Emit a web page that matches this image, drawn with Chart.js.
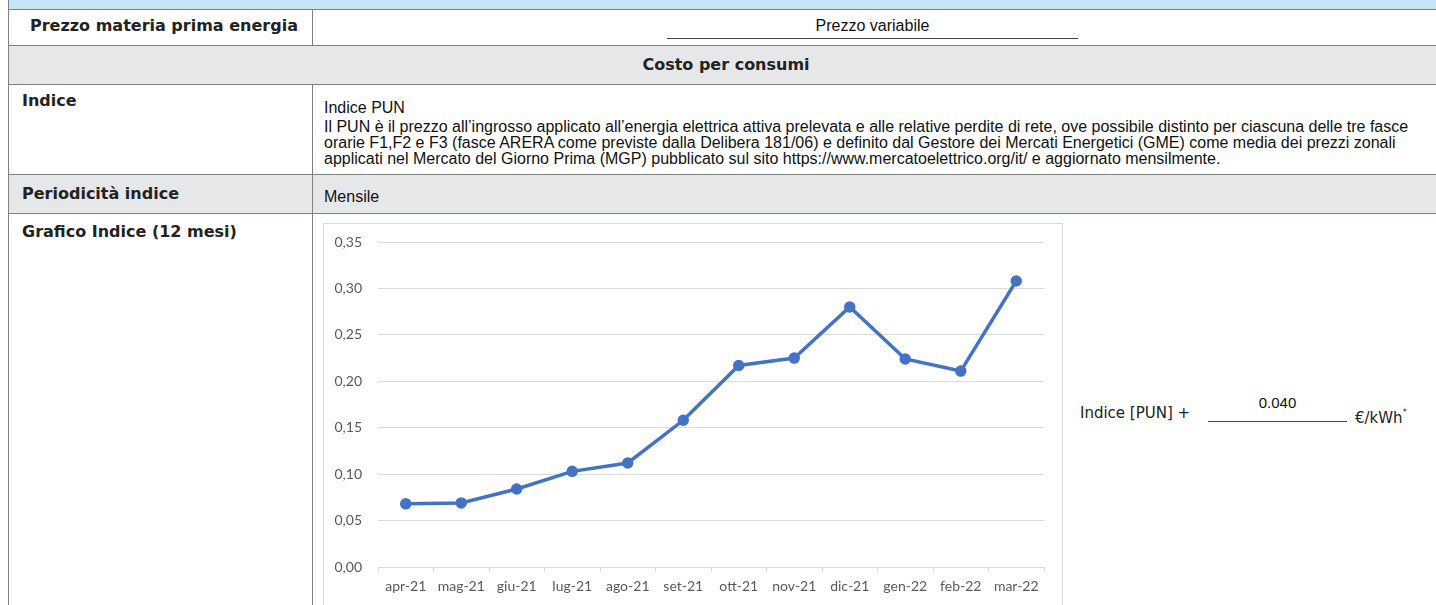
<!DOCTYPE html>
<html lang="it">
<head>
<meta charset="utf-8">
<title>Grafico Indice PUN</title>
<script src="https://cdn.jsdelivr.net/npm/chart.js@4.4.1/dist/chart.umd.min.js"></script>
<style>
    html, body {
        margin: 0;
        padding: 0;
        width: 1436px;
        height: 605px;
        overflow: hidden;
        background: #ffffff;
    }
    .page {
        position: relative;
        width: 1436px;
        height: 605px;
    }
    .band {
        position: absolute;
        left: 8px;
        width: 1436px;
    }
    .blue { background: #c6e6f7; }
    .grey { background: #e6e7e8; }
    .hline {
        position: absolute;
        left: 8px;
        width: 1436px;
        height: 1px;
        background: #808080;
    }
    .vline {
        position: absolute;
        width: 1px;
        background: #808080;
    }
    .label {
        position: absolute;
        font-family: "DejaVu Sans", Verdana, sans-serif;
        font-weight: bold;
        font-size: 16px;
        line-height: 18px;
        color: #222;
        white-space: nowrap;
    }
    .text {
        position: absolute;
        font-family: "Liberation Sans", Arial, sans-serif;
        font-size: 16px;
        line-height: 18px;
        color: #111;
        white-space: nowrap;
    }
    .rule {
        position: absolute;
        height: 1px;
        background: #444;
    }
    .chart-box {
        position: absolute;
        left: 323px;
        top: 223px;
        width: 740px;
        height: 400px;
        box-sizing: border-box;
        border: 1px solid #d9d9d9;
        background: #ffffff;
    }
    .chart-box canvas {
        position: absolute;
        left: 0;
        top: 0;
    }
    .formula {
        position: absolute;
        font-family: "DejaVu Sans", Verdana, sans-serif;
        font-size: 15px;
        line-height: 18px;
        color: #222;
        white-space: nowrap;
    }
</style>
</head>
<body>
<div class="page">
    <!-- bands -->
    <div class="band blue" style="top:0;height:9px;"></div>
    <div class="band grey" style="top:46px;height:38px;"></div>
    <div class="band grey" style="top:175px;height:38px;"></div>

    <!-- borders -->
    <div class="hline" style="top:9px;"></div>
    <div class="hline" style="top:45px;"></div>
    <div class="hline" style="top:84px;"></div>
    <div class="hline" style="top:174px;"></div>
    <div class="hline" style="top:213px;"></div>
    <div class="vline" style="left:8px;top:0;height:605px;"></div>
    <div class="vline" style="left:312px;top:9px;height:37px;"></div>
    <div class="vline" style="left:312px;top:84px;height:521px;"></div>

    <!-- row: prezzo -->
    <div class="label" style="left:30px;top:17px;">Prezzo materia prima energia</div>
    <div class="text" style="left:667px;width:411px;top:17px;text-align:center;">Prezzo variabile</div>
    <div class="rule" style="left:667px;width:411px;top:38px;"></div>

    <!-- row: costo -->
    <div class="label" style="left:8px;width:1436px;top:56px;text-align:center;">Costo per consumi</div>

    <!-- row: indice -->
    <div class="label" style="left:22px;top:92px;">Indice</div>
    <div class="text" style="left:324px;top:99px;">Indice PUN</div>
    <div class="text" style="left:324px;top:118px;">Il PUN è il prezzo all’ingrosso applicato all’energia elettrica attiva prelevata e alle relative perdite di rete, ove possibile distinto per ciascuna delle tre fasce</div>
    <div class="text" style="left:324px;top:134px;">orarie F1,F2 e F3 (fasce ARERA come previste dalla Delibera 181/06) e definito dal Gestore dei Mercati Energetici (GME) come media dei prezzi zonali</div>
    <div class="text" style="left:324px;top:150px;">applicati nel Mercato del Giorno Prima (MGP) pubblicato sul sito https://www.mercatoelettrico.org/it/ e aggiornato mensilmente.</div>

    <!-- row: periodicita -->
    <div class="label" style="left:22px;top:185px;">Periodicità indice</div>
    <div class="text" style="left:324px;top:188px;">Mensile</div>

    <!-- row: grafico -->
    <div class="label" style="left:22px;top:223px;">Grafico Indice (12 mesi)</div>
    <div class="chart-box">
        <canvas id="pun-chart" width="738" height="398"></canvas>
    </div>

    <div class="formula" style="left:1080px;top:404px;">Indice [PUN] +</div>
    <div class="text" style="left:1208px;width:139px;top:394px;text-align:center;font-size:15px;">0.040</div>
    <div class="rule" style="left:1208px;width:139px;top:421px;"></div>
    <div class="formula" style="left:1355px;top:404px;">€/kWh<sup style="font-size:8px;vertical-align:8px;">*</sup></div>
</div>

<script>
// Data
const months = ["apr-21", "mag-21", "giu-21", "lug-21", "ago-21", "set-21",
    "ott-21", "nov-21", "dic-21", "gen-22", "feb-22", "mar-22"];
const punValues = [0.068, 0.069, 0.084, 0.103, 0.112, 0.158,
    0.217, 0.225, 0.280, 0.224, 0.211, 0.308];
const yMin = 0;
const yMax = 0.35;
const yStep = 0.05;

// Element
let chartElement = document.querySelector("#pun-chart");

// Function
const formatTick = (value) => {
    return value.toFixed(2).replace(".", ",");
}

// Chart
new Chart(chartElement, {
    type: "line",
    data: {
        labels: months,
        datasets: [
            {
                label: "PUN",
                data: punValues,
                borderColor: "#4472c4",
                backgroundColor: "#4472c4",
                borderWidth: 3.5,
                pointRadius: 4,
                pointBackgroundColor: "#4472c4",
                pointBorderColor: "#4472c4",
                tension: 0
            }
        ]
    },
    options: {
        responsive: false,
        animation: false,
        devicePixelRatio: 1,
        layout: {
            padding: {left: 0, right: 18, top: 18, bottom: 0}
        },
        plugins: {
            legend: {display: false},
            tooltip: {enabled: false}
        },
        scales: {
            x: {
                offset: true,
                grid: {
                    offset: true,
                    drawOnChartArea: false,
                    drawTicks: true,
                    tickLength: 5,
                    color: "#d9d9d9"
                },
                border: {display: true, color: "#d9d9d9", width: 1},
                ticks: {
                    color: "#595959",
                    font: {family: "Lato", size: 14},
                    padding: 6,
                    maxRotation: 0,
                    autoSkip: false
                },
                afterFit: (scale) => {
                    scale.height = 55;
                }
            },
            y: {
                min: yMin,
                max: yMax,
                grid: {
                    color: "#d9d9d9",
                    drawTicks: false
                },
                border: {display: false},
                ticks: {
                    stepSize: yStep,
                    color: "#595959",
                    font: {family: "Lato", size: 14},
                    padding: 16,
                    callback: (value) => formatTick(value)
                },
                afterFit: (scale) => {
                    // keep the tick padding from pushing the plot down
                    scale.width = 54;
                    scale.paddingTop = 0;
                    scale.paddingBottom = 0;
                }
            }
        }
    }
});
</script>
</body>
</html>
